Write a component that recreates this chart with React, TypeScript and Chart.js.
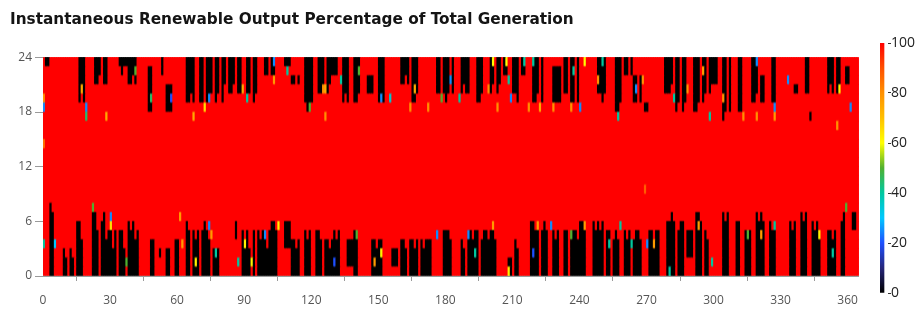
import { useEffect, useRef } from 'react';
import { Chart, registerables } from 'chart.js';

Chart.register(...registerables);

const TITLE = 'Instantaneous Renewable Output Percentage of Total Generation';
const DAY_COUNT = 365;
const HOURS = 24;
const X_TICKS = [0, 30, 60, 90, 120, 150, 180, 210, 240, 270, 300, 330, 360];
const Y_TICKS = [0, 6, 12, 18, 24];
const CB_TICKS = [0, 20, 40, 60, 80, 100];

// colour scale: [value, colour]
const COLOR_STOPS: [number, string][] = [
  [0, '#000000'], [10, '#26267a'], [20, '#1e50ff'], [30, '#00c8ff'], [40, '#00c8a0'],
  [50, '#50b030'], [60, '#ffff00'], [70, '#ffc000'], [80, '#ff9000'], [90, '#ff5000'], [100, '#ff0000'],
];

// lower band: per day, output is 0 from hour 0 (or a float base) up to this hour
const LOW_TOP =
  '0008700003 2032066400 0077506745 6350553065 6450000044 0030033004 4000650545 0565403230 0000006005 4530505455 ' +
  '3566500066 6443400545 0055404434 5450004445 4000000443 4400003330 4430443404 3444000005 5540000430 5545504554 ' +
  '5540000022 0430000066 5605650054 5005505554 6660006565 6055045400 5450455400 0554550006 6760566055 5077605400 ' +
  '0000767000 6600545007 6760065600 0000656007 6700656500 0554500670 00770';
// [day, base hour] for lower-band runs that do not start at hour 0
const LOW_FLOATS: [number, number][] = [
  [52, 2], [86, 4], [108, 3], [109, 3], [110, 3], [136, 1], [137, 1], [138, 1], [156, 1], [157, 1], [158, 1],
  [288, 2], [289, 2], [290, 2], [362, 5], [363, 5],
];
// upper band: per day, output is 0 from hour 24 down by this many hours
const UP_DEPTH =
  '0110000000 0000005450 0003320330 0000121133 2300000660 0002066600 0000554500 5505540540 5304430440 0540540002 ' +
  '2022000012 1330300565 5004430432 2200545005 5400044400 5450000000 3323055400 0000004404 5404000434 4000554000 ' +
  '4304302200 4450220005 5405000055 5504405505 0000000044 5400006650 2202550506 6000000044 4306506500 0665054043 ' +
  '3300760600 0660000554 0550005500 0000004400 0447000000 0434044003 30000';
// [day, gap hours below 24] for upper-band runs that do not reach hour 24
const UP_GAPS: [number, number][] = [
  [47, 1], [48, 1], [55, 3], [56, 3], [57, 3], [111, 2], [112, 2], [113, 2], [114, 2], [145, 2], [146, 2], [147, 2],
  [228, 1], [229, 1], [230, 1], [231, 1], [264, 2], [265, 2], [266, 2], [267, 2], [269, 5], [270, 5],
  [321, 2], [322, 2], [336, 3], [337, 3], [343, 6], [359, 1], [360, 1],
];
// [day, hour, percent] intermediate values
const SPECKLES: [number, number, number][] = [
  [0, 18, 25], [0, 19, 80], [0, 14, 85], [17, 20, 75], [19, 18, 25], [19, 17, 45], [28, 17, 75], [41, 22, 50],
  [48, 19, 45], [57, 19, 20], [67, 17, 75], [72, 18, 65], [74, 19, 25], [89, 20, 75], [91, 19, 40], [103, 23, 25],
  [103, 21, 78], [109, 22, 40], [119, 18, 50], [125, 20, 80], [126, 20, 75], [126, 17, 80], [133, 21, 40],
  [141, 22, 50], [151, 19, 25], [155, 19, 35], [164, 18, 80], [166, 20, 75], [172, 18, 80], [178, 19, 50],
  [182, 21, 25], [186, 19, 40], [199, 20, 80], [201, 23, 60], [203, 18, 80], [207, 23, 60], [208, 21, 40],
  [209, 19, 25], [215, 23, 40], [217, 18, 80], [219, 23, 40], [222, 18, 75], [228, 18, 80], [236, 18, 80],
  [237, 22, 40], [240, 18, 25], [242, 23, 60], [248, 21, 80], [250, 23, 40], [257, 17, 40], [265, 20, 25],
  [268, 21, 80], [282, 19, 40], [288, 20, 80], [295, 22, 78], [298, 17, 40], [304, 19, 80], [313, 17, 80],
  [319, 23, 25], [319, 17, 80], [327, 18, 25], [327, 17, 78], [333, 21, 25], [356, 20, 62], [355, 16, 80],
  [361, 18, 25],
  [0, 3, 40], [5, 3, 30], [22, 7, 50], [30, 6, 25], [30, 5, 65], [37, 1, 50], [61, 6, 78], [62, 3, 78],
  [68, 1, 62], [74, 5, 25], [75, 4, 78], [77, 2, 40], [87, 1, 40], [90, 3, 62], [93, 1, 62], [99, 4, 25],
  [105, 5, 62], [130, 1, 20], [140, 4, 50], [151, 2, 62], [148, 1, 78], [176, 4, 25], [190, 4, 25],
  [193, 2, 40], [201, 5, 78], [208, 0, 62], [219, 2, 20], [221, 5, 78], [227, 5, 25], [236, 4, 50],
  [242, 5, 78], [253, 3, 40], [258, 5, 40], [263, 3, 40], [270, 3, 25], [273, 3, 78], [280, 0, 40],
  [293, 5, 78], [299, 1, 40], [315, 4, 50], [321, 4, 78], [327, 5, 40], [347, 4, 62], [353, 2, 40],
  [359, 7, 50], [269, 9, 88],
];

function hexToRgb(h: string): number[] {
  return [1, 3, 5].map((i) => parseInt(h.slice(i, i + 2), 16));
}

function colorFor(v: number): string {
  for (let i = 1; i < COLOR_STOPS.length; i++) {
    const [v1, c1] = COLOR_STOPS[i];
    if (v <= v1) {
      const [v0, c0] = COLOR_STOPS[i - 1];
      const t = (v - v0) / (v1 - v0);
      const a = hexToRgb(c0);
      const b = hexToRgb(c1);
      const c = a.map((x, k) => Math.round(x + (b[k] - x) * t));
      return `rgb(${c[0]},${c[1]},${c[2]})`;
    }
  }
  return COLOR_STOPS[COLOR_STOPS.length - 1][1];
}

function buildGrid(): number[][] {
  const grid = Array.from({ length: HOURS }, () => new Array(DAY_COUNT).fill(100));
  const low = LOW_TOP.replace(/\s/g, '');
  const up = UP_DEPTH.replace(/\s/g, '');
  const lowBase = new Map(LOW_FLOATS);
  const upGap = new Map(UP_GAPS);
  for (let d = 0; d < DAY_COUNT; d++) {
    const top = Number(low[d] || 0);
    const base = lowBase.get(d) ?? 0;
    for (let h = base; h < top; h++) grid[h][d] = 0;
    const depth = Number(up[d] || 0);
    const gap = upGap.get(d) ?? 0;
    for (let h = HOURS - depth; h < HOURS - gap; h++) grid[h][d] = 0;
  }
  SPECKLES.forEach(([d, h, v]) => {
    grid[h][d] = v;
  });
  return grid;
}

// softens the cell edges like the smoothed original rendering
const softenPlugin = {
  id: 'soften',
  afterDatasetsDraw(chart: any) {
    const { ctx, chartArea: a } = chart;
    const w = Math.round(a.right - a.left);
    const h = Math.round(a.bottom - a.top);
    const off = document.createElement('canvas');
    off.width = w;
    off.height = h;
    const o = off.getContext('2d')!;
    o.drawImage(ctx.canvas, a.left, a.top, w, h, 0, 0, w, h);
    ctx.save();
    ctx.beginPath();
    ctx.rect(a.left, a.top, w, h);
    ctx.clip();
    ctx.filter = 'blur(0.5px)';
    ctx.drawImage(off, a.left, a.top);
    ctx.restore();
  },
};

const TICK_FONT = { family: '"Open Sans", sans-serif', size: 12 };

export default function App() {
  const mainRef = useRef<HTMLCanvasElement>(null);
  const barRef = useRef<HTMLCanvasElement>(null);

  useEffect(() => {
    const grid = buildGrid();
    const datasets = grid.map((row, h) => ({
      label: `h${h}`,
      data: row.map((_v, d) => ({ x: d + 0.5, y: [h, h + 1] })),
      backgroundColor: row.map(colorFor),
      borderWidth: 0,
    }));

    const main = new Chart(mainRef.current!, {
      type: 'bar',
      data: { datasets: datasets as any },
      plugins: [softenPlugin],
      options: {
        responsive: false,
        animation: false,
        events: [],
        datasets: { bar: { grouped: false, categoryPercentage: 1, barPercentage: 1 } },
        layout: { padding: { left: 10, right: 5, top: 0, bottom: 0 } },
        plugins: {
          legend: { display: false },
          tooltip: { enabled: false },
          title: {
            display: true,
            text: TITLE,
            align: 'start',
            color: '#141414',
            font: { family: '"DejaVu Sans", sans-serif', size: 15.3, weight: 'bold' },
            padding: { top: 11, bottom: 28 },
          },
        },
        scales: {
          x: {
            type: 'linear',
            min: 0,
            max: DAY_COUNT,
            offset: false,
            afterBuildTicks: (scale: any) => {
              scale.ticks = X_TICKS.map((value) => ({ value }));
            },
            afterFit: (scale: any) => {
              scale.height = 33;
            },
            grid: { drawOnChartArea: false, drawTicks: true, tickLength: 5, color: '#9a9a9a' },
            border: { display: true, color: '#9a9a9a' },
            ticks: { color: '#555', font: TICK_FONT, padding: 12, maxRotation: 0 },
          },
          y: {
            type: 'linear',
            min: 0,
            max: HOURS,
            afterBuildTicks: (scale: any) => {
              scale.ticks = Y_TICKS.map((value) => ({ value }));
            },
            afterFit: (scale: any) => {
              scale.width = 33;
            },
            grid: { drawOnChartArea: false, drawTicks: true, tickLength: 8, color: '#9a9a9a' },
            border: { display: true, color: '#9a9a9a' },
            ticks: { color: '#555', font: TICK_FONT, padding: 3 },
          },
        },
      },
    });

    const bar = new Chart(barRef.current!, {
      type: 'bar',
      data: {
        labels: [''],
        datasets: [
          {
            data: [[CB_TICKS[0], CB_TICKS[CB_TICKS.length - 1]]] as any,
            borderWidth: 0,
            backgroundColor: (ctx: any) => {
              const area = ctx.chart.chartArea;
              if (!area) return '#ff0000';
              const g = ctx.chart.ctx.createLinearGradient(0, area.bottom, 0, area.top);
              COLOR_STOPS.forEach(([v, c]) => g.addColorStop(v / 100, c));
              return g;
            },
          },
        ],
      },
      options: {
        responsive: false,
        animation: false,
        events: [],
        datasets: { bar: { categoryPercentage: 1, barPercentage: 1 } },
        layout: { padding: { left: 10, right: 0, top: 43, bottom: 16 } },
        plugins: { legend: { display: false }, tooltip: { enabled: false }, title: { display: false } },
        scales: {
          x: { display: false, offset: false },
          y: {
            position: 'right',
            min: 0,
            max: 100,
            afterBuildTicks: (scale: any) => {
              scale.ticks = CB_TICKS.map((value) => ({ value }));
            },
            afterFit: (scale: any) => {
              scale.width = 27;
            },
            grid: { drawOnChartArea: false, drawTicks: true, tickLength: 3, color: '#333' },
            border: { display: false },
            ticks: { color: '#222', font: { family: '"Open Sans", sans-serif', size: 14 }, padding: 0 },
          },
        },
      },
    });

    return () => {
      main.destroy();
      bar.destroy();
    };
  }, []);

  return (
    <div style={{ position: 'fixed', left: 0, top: 0, width: 915, height: 309, background: '#fff' }}>
      <canvas ref={mainRef} width={870} height={309} style={{ position: 'absolute', left: 0, top: 0, width: 870, height: 309 }} />
      <canvas ref={barRef} width={45} height={309} style={{ position: 'absolute', left: 870, top: 0, width: 45, height: 309 }} />
    </div>
  );
}
